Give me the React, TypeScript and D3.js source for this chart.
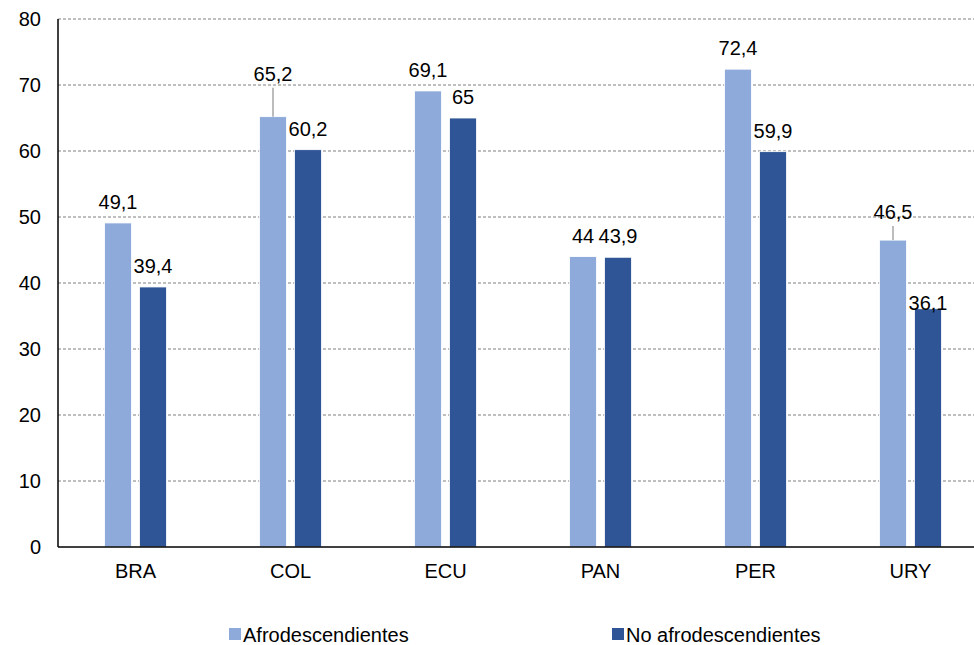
import React from "react";
import * as d3 from "d3";

const categories = ["BRA", "COL", "ECU", "PAN", "PER", "URY"];
const afro = [49.1, 65.2, 69.1, 44, 72.4, 46.5];
const noAfro = [39.4, 60.2, 65, 43.9, 59.9, 36.1];
const yTicks = [0, 10, 20, 30, 40, 50, 60, 70, 80];
const seriesNames = ["Afrodescendientes", "No afrodescendientes"];

// label layout tweaks (pixels): extra lift for labels with leader lines
const afroLift = [0, 22, 0, 0, 0, 7];
const noAfroLift = [0, 0, 0, 0, 0, -15];

const W = 974;
const H = 645;
const M = { left: 58, right: -14, top: 19, bottom: 98 };
const colors = ["#8EAADB", "#2F5597"];
const fmt = (v: number) => String(v).replace(".", ",");

export default function App() {
  const x = d3
    .scaleBand<string>()
    .domain(categories)
    .range([M.left, W - M.right])
    .paddingInner(0)
    .paddingOuter(0);
  const y = d3.scaleLinear().domain([0, 80]).range([H - M.bottom, M.top]);
  const barW = 27;
  const gap = 8;
  const font = "'Liberation Sans', Arial, sans-serif";
  const fs = 20;

  return (
    <svg width={W} height={H} style={{ position: "absolute", left: 0, top: 0 }}>
      <rect width={W} height={H} fill="#fff" />
      {yTicks.map((t) => (
        <g key={t}>
          {t > 0 && (
            <line
              x1={M.left}
              x2={W}
              y1={y(t)}
              y2={y(t)}
              stroke="#7f7f7f"
              strokeWidth={1}
              strokeDasharray="3,2"
            />
          )}
          <text
            x={41}
            y={y(t)}
            dy="0.35em"
            textAnchor="end"
            fontFamily={font}
            fontSize={fs}
            fill="#000"
          >
            {t}
          </text>
        </g>
      ))}
      {categories.map((c, i) => {
        const cx = (x(c) as number) + x.bandwidth() / 2;
        const x1 = cx - gap / 2 - barW;
        const x2 = cx + gap / 2;
        const ya = y(afro[i]);
        const yb = y(noAfro[i]);
        const la = ya - 21 - afroLift[i];
        const lb = yb - 21 - noAfroLift[i];
        return (
          <g key={c}>
            <rect x={x1} y={ya} width={barW} height={y(0) - ya} fill={colors[0]} stroke="#fff" strokeWidth={0.8} />
            <rect x={x2} y={yb} width={barW} height={y(0) - yb} fill={colors[1]} stroke="#fff" strokeWidth={0.8} />
            {afroLift[i] > 0 && (
              <line
                x1={x1 + barW / 2}
                x2={x1 + barW / 2}
                y1={ya}
                y2={la + 14}
                stroke="#a6a6a6"
                strokeWidth={1.5}
              />
            )}
            <text
              x={x1 + barW / 2}
              y={la}
              dy="0.35em"
              textAnchor="middle"
              fontFamily={font}
              fontSize={fs}
              fill="#000"
            >
              {fmt(afro[i])}
            </text>
            <text
              x={x2 + barW / 2}
              y={lb}
              dy="0.35em"
              textAnchor="middle"
              fontFamily={font}
              fontSize={fs}
              fill="#000"
            >
              {fmt(noAfro[i])}
            </text>
            <text
              x={cx}
              y={y(0) + 24}
              dy="0.35em"
              textAnchor="middle"
              fontFamily={font}
              fontSize={fs}
              fill="#000"
            >
              {c}
            </text>
          </g>
        );
      })}
      <line x1={M.left} x2={M.left} y1={M.top} y2={y(0)} stroke="#000" strokeWidth={1.5} />
      <line x1={M.left} x2={W} y1={y(0)} y2={y(0)} stroke="#000" strokeWidth={1.5} />
      {seriesNames.map((s, i) => {
        const lx = i === 0 ? 229 : 612;
        return (
          <g key={s}>
            <rect x={lx} y={628} width={12} height={12} fill={colors[i]} />
            <text x={lx + 14} y={635} dy="0.35em" fontFamily={font} fontSize={fs} fill="#000">
              {s}
            </text>
          </g>
        );
      })}
    </svg>
  );
}
